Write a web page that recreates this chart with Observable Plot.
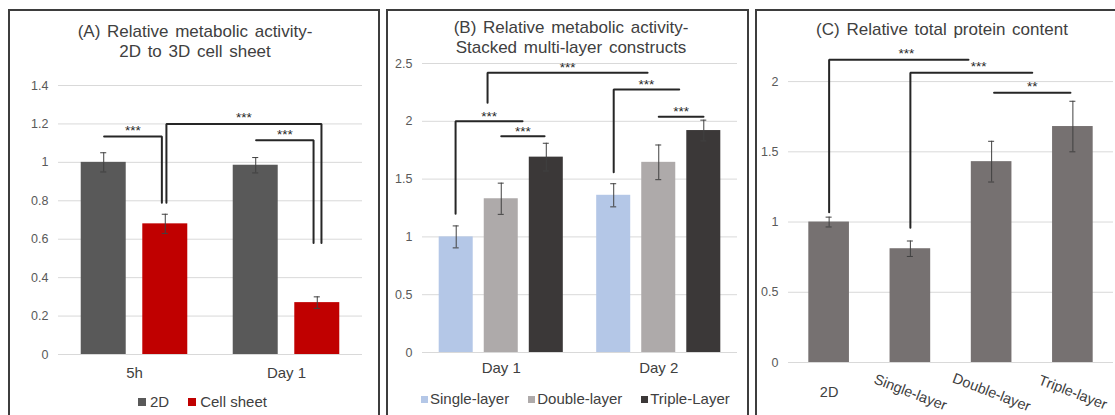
<!DOCTYPE html>
<html>
<head>
<meta charset="utf-8">
<script src="https://cdn.jsdelivr.net/npm/d3@7"></script>
<script src="https://cdn.jsdelivr.net/npm/@observablehq/plot@0.6"></script>
<style>
  body { margin: 0; background: #fff; font-family: "Liberation Sans", Arial, Helvetica, sans-serif; }
  #root { position: relative; width: 1115px; height: 415px; overflow: hidden; background: #fff; }
  .panel { position: absolute; top: 9px; height: 430px; box-sizing: border-box;
           border: 2px solid #3d3d3d; border-bottom: none; }
  .title { position: absolute; width: 400px; text-align: center; color: #404040;
           font-size: 17px; line-height: 19.5px; word-spacing: 2px; white-space: nowrap; }
  .legend { position: absolute; display: flex; align-items: center; color: #404040;
            font-size: 15px; line-height: 18px; white-space: nowrap; }
  .legend .item { display: flex; align-items: center; margin-right: 19px; }
  .legend .sw { width: 7px; height: 7px; margin-right: 4px; }
  .chart { position: absolute; z-index: 2; }
</style>
</head>
<body>
<div id="root"></div>
<script>
// ---------------- Panel A data ----------------
const aTitle = ["(A) Relative metabolic activity-", "2D to 3D cell sheet"];
const aGroups = ["5h", "Day 1"];
const aSeries = ["2D", "Cell sheet"];
const aColors = ["#595959", "#c00000"];
const aMeans  = [[1.00, 0.68], [0.985, 0.27]];
const aErrors = [[0.05, 0.05], [0.04, 0.03]];
const aTicks  = [0, 0.2, 0.4, 0.6, 0.8, 1, 1.2, 1.4];
const aBrackets = [
  { x1: -0.2, x2: 0.18, y: 1.135, end1: null, end2: 0.79, label: "***" },
  { x1: 0.21, x2: 1.23, y: 1.2,   end1: 0.79, end2: 0.58, label: "***" },
  { x1: 0.8,  x2: 1.178, y: 1.115, end1: null, end2: 0.58, label: "***" }
];

// ---------------- Panel B data ----------------
const bTitle = ["(B) Relative metabolic activity-", "Stacked multi-layer constructs"];
const bGroups = ["Day 1", "Day 2"];
const bSeries = ["Single-layer", "Double-layer", "Triple-Layer"];
const bColors = ["#b4c7e7", "#aeaaaa", "#3b3838"];
const bMeans  = [[1.0, 1.33, 1.69], [1.36, 1.645, 1.92]];
const bErrors = [[0.095, 0.135, 0.12], [0.10, 0.15, 0.09]];
const bTicks  = [0, 0.5, 1, 1.5, 2, 2.5];
const bBrackets = [
  { x1: -0.29, x2: 0.135, y: 2.0,   end1: 1.2,  end2: null, label: "***" },
  { x1: 0.0,   x2: 0.275, y: 1.87,  end1: null, end2: null, label: "***" },
  { x1: -0.087, x2: 0.929, y: 2.42, end1: 2.16, end2: null, label: "***" },
  { x1: 0.714, x2: 1.13,  y: 2.275, end1: 1.56, end2: null, label: "***" },
  { x1: 1.0,   x2: 1.284, y: 2.04,  end1: null, end2: null, label: "***" }
];

// ---------------- Panel C data ----------------
const cTitle = ["(C) Relative total protein content"];
const cCategories = ["2D", "Single-layer", "Double-layer", "Triple-layer"];
const cSeries = ["Protein"];
const cColors = ["#767171"];
const cMeans  = [1.0, 0.81, 1.43, 1.68];
const cErrors = [0.035, 0.055, 0.145, 0.18];
const cTicks  = [0, 0.5, 1, 1.5, 2];
const cBrackets = [
  { x1: 0,    x2: 1.715, y: 2.155, end1: 1.07, end2: null, label: "***", tx: 0.95 },
  { x1: 1,    x2: 2.5,   y: 2.063, end1: 0.96, end2: null, label: "***", tx: 1.84 },
  { x1: 2.03, x2: 2.97,  y: 1.92,  end1: null, end2: null, label: "**" }
];

// ---------------- helpers ----------------
const FONT = '"Liberation Sans", Arial, Helvetica, sans-serif';
const root = document.getElementById("root");

function groupedRows(groups, series, means, errors, spacing) {
  const rows = [];
  groups.forEach((g, gi) => series.forEach((s, si) => {
    rows.push({ group: g, series: s, x: gi + (si - (series.length - 1) / 2) * spacing,
                mean: means[gi][si], err: errors[gi][si] });
  }));
  return rows;
}

function bracketPoints(brackets) {
  const pts = [];
  brackets.forEach((b, k) => {
    if (b.end1 != null) pts.push({ id: k, x: b.x1, y: b.end1 });
    pts.push({ id: k, x: b.x1, y: b.y });
    pts.push({ id: k, x: b.x2, y: b.y });
    if (b.end2 != null) pts.push({ id: k, x: b.x2, y: b.end2 });
  });
  return pts;
}

function addPanelBox(left, width) {
  const d = document.createElement("div");
  d.className = "panel";
  d.style.left = left + "px";
  d.style.width = width + "px";
  root.appendChild(d);
}

function addTitle(lines, cx, top) {
  const d = document.createElement("div");
  d.className = "title";
  d.style.left = (cx - 200) + "px";
  d.style.top = top + "px";
  d.innerHTML = lines.map(t => `<div>${t}</div>`).join("");
  root.appendChild(d);
}

function addLegend(series, colors, left, top, sw, gap) {
  const d = document.createElement("div");
  d.className = "legend";
  d.style.left = left + "px";
  d.style.top = top + "px";
  series.forEach((s, i) => {
    const it = document.createElement("div");
    it.className = "item";
    const q = document.createElement("span");
    q.className = "sw";
    q.style.background = colors[i];
    q.style.width = sw + "px";
    q.style.height = sw + "px";
    q.style.marginRight = gap + "px";
    const t = document.createElement("span");
    t.textContent = s;
    it.appendChild(q); it.appendChild(t);
    d.appendChild(it);
  });
  root.appendChild(d);
}

function makeChart(o) {
  const marks = [
    Plot.gridY(o.yTicks, { stroke: "#d9d9d9", strokeOpacity: 1, strokeWidth: 1 }),
    Plot.axisY(o.yTicks, { tickSize: 0, tickPadding: 10, fontSize: 12.5, fill: "#595959",
                           tickFormat: d => String(d), label: null }),
    Plot.rectY(o.rows, { x1: d => d.x - o.barWidth / 2, x2: d => d.x + o.barWidth / 2,
                         y1: 0, y2: "mean", fill: "series" }),
    Plot.ruleX(o.rows, { x: "x", y1: d => d.mean - d.err, y2: d => d.mean + d.err,
                         stroke: "#404040", strokeWidth: 1 }),
    Plot.ruleY(o.rows, { y: d => d.mean + d.err, x1: d => d.x - o.cap, x2: d => d.x + o.cap,
                         stroke: "#404040", strokeWidth: 1 }),
    Plot.ruleY(o.rows, { y: d => d.mean - d.err, x1: d => d.x - o.cap, x2: d => d.x + o.cap,
                         stroke: "#404040", strokeWidth: 1 }),
    Plot.line(bracketPoints(o.brackets), { x: "x", y: "y", z: "id", stroke: "#262626",
                         strokeWidth: 2, strokeLinejoin: "miter" }),
    Plot.text(o.brackets, { x: d => d.tx ?? (d.x1 + d.x2) / 2, y: "y", text: "label",
                         dy: o.starDy, fontSize: 13.5, fill: "#262626" }),
    ...o.extra
  ];
  const svg = Plot.plot({
    width: o.width, height: o.height,
    marginLeft: o.frame[0] - o.left,
    marginRight: o.left + o.width - o.frame[1],
    marginTop: o.frame[2] - o.top,
    marginBottom: o.top + o.height - o.frame[3],
    x: { domain: o.xDomain, axis: null },
    y: { domain: o.yDomain, axis: null },
    color: { domain: o.series, range: o.colors },
    style: { fontFamily: FONT, background: "transparent", overflow: "visible" },
    marks
  });
  svg.classList.add("chart");
  svg.style.left = o.left + "px";
  svg.style.top = o.top + "px";
  root.appendChild(svg);
}

// ---------------- Panel boxes ----------------
addPanelBox(8, 372);
addPanelBox(386, 363);
addPanelBox(755, 380);

// ---------------- Panel A ----------------
makeChart({
  left: 10, top: 11, width: 368, height: 375,
  frame: [58, 362, 85, 354],
  xDomain: [-0.5, aGroups.length - 0.5], yDomain: [0, 1.4], yTicks: aTicks,
  rows: groupedRows(aGroups, aSeries, aMeans, aErrors, 0.405),
  barWidth: 0.296, cap: 0.02, series: aSeries, colors: aColors,
  brackets: aBrackets, starDy: -6,
  extra: [
    Plot.axisX(d3.range(aGroups.length), { tickSize: 0, tickPadding: 13, fontSize: 15,
      fill: "#404040", tickFormat: i => aGroups[i], label: null })
  ]
});
addTitle(aTitle, 195, 22);
addLegend(aSeries, aColors, 138, 393, 8, 4);

// ---------------- Panel B ----------------
makeChart({
  left: 389, top: 11, width: 358, height: 375,
  frame: [422, 737, 63, 352],
  xDomain: [-0.5, bGroups.length - 0.5], yDomain: [0, 2.5], yTicks: bTicks,
  rows: groupedRows(bGroups, bSeries, bMeans, bErrors, 0.286),
  barWidth: 0.216, cap: 0.019, series: bSeries, colors: bColors,
  brackets: bBrackets, starDy: -5,
  extra: [
    Plot.axisX(d3.range(bGroups.length), { tickSize: 0, tickPadding: 10, fontSize: 15,
      fill: "#404040", tickFormat: i => bGroups[i], label: null })
  ]
});
addTitle(bTitle, 571, 18);
addLegend(bSeries, bColors, 421, 390, 7, 2);

// ---------------- Panel C ----------------
makeChart({
  left: 758, top: 11, width: 357, height: 404,
  frame: [788, 1113, 53, 362],
  xDomain: [-0.5, cCategories.length - 0.5], yDomain: [0, 2.2], yTicks: cTicks,
  rows: groupedRows(cCategories, cSeries, cMeans.map(v => [v]), cErrors.map(v => [v]), 0),
  barWidth: 0.5, cap: 0.037, series: cSeries, colors: cColors,
  brackets: cBrackets, starDy: -6,
  extra: [
    Plot.text(cCategories, { x: (d, i) => i, y: 0, text: d => d, dy: 30,
      rotate: d => (d.length > 2 ? 21 : 0), fontSize: 14.5, fill: "#404040" })
  ]
});
addTitle(cTitle, 942, 20);
</script>
</body>
</html>
